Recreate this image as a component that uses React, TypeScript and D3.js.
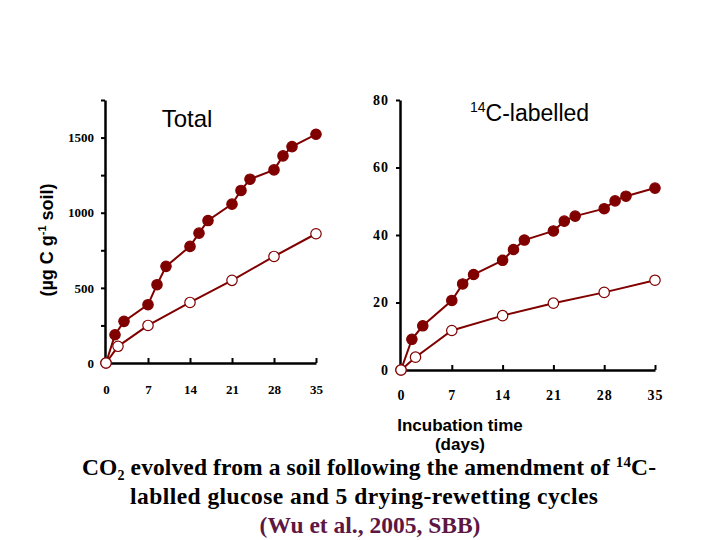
import React, { useEffect, useRef } from 'react';
import * as d3 from 'd3';

// incubation days
const dailyDays = [0, 1.5, 3, 7, 8.5, 10, 14, 15.5, 17, 21, 22.5, 24, 28, 29.5, 31, 35];
const weeklyDays = [0, 2, 7, 14, 21, 28, 35];

// total CO2-C (ug C / g soil)
const totalDrw = [0, 188, 277, 388, 521, 643, 776, 864, 948, 1057, 1148, 1223, 1285, 1378, 1440, 1522];
const totalMoist = [0, 111, 250, 403, 550, 709, 860];

// 14C-labelled CO2-C
const labelDrw = [0, 9.1, 13.1, 20.6, 25.5, 28.3, 32.5, 35.7, 38.5, 41.2, 44.1, 45.6, 47.8, 50.1, 51.5, 53.9];
const labelMoist = [0, 3.8, 11.7, 16.1, 19.8, 23.0, 26.6];

const dayTicks = [0, 7, 14, 21, 28, 35];
const totalTicks = [0, 250, 500, 750, 1000, 1250, 1500, 1750];
const labelTicks = [0, 20, 40, 60, 80];

const RED = '#800000';
const SANS = '"Liberation Sans", Arial, sans-serif';
const SERIF = '"Liberation Serif", "Times New Roman", serif';

type Panel = {
  xRange: [number, number];
  yRange: [number, number];
  yMax: number;
  yTicks: number[];
  yFormat: (d: number) => string;
  filled: number[];
  open: number[];
  tickPad: number;
  labelSize: number;
  labelSpacing: number;
};

function drawPanel(svg: d3.Selection<SVGSVGElement, unknown, null, undefined>, p: Panel) {
  const x = d3.scaleLinear().domain([0, 35]).range(p.xRange);
  const y = d3.scaleLinear().domain([0, p.yMax]).range(p.yRange);
  const g = svg.append('g');

  const yAxis = g.append('g')
    .attr('transform', `translate(${p.xRange[0] - 1},0)`)
    .call(d3.axisLeft(y).tickValues(p.yTicks).tickFormat(p.yFormat as any).tickSize(4).tickSizeOuter(0).tickPadding(7));
  const xAxis = g.append('g')
    .attr('transform', `translate(0,${p.yRange[0]})`)
    .call(d3.axisBottom(x).tickValues(dayTicks).tickFormat(d3.format('d') as any).tickSize(-5).tickSizeOuter(0).tickPadding(p.tickPad));

  [yAxis, xAxis].forEach(a => {
    a.select('.domain').attr('stroke', '#000').attr('stroke-width', 2.5);
    a.selectAll('.tick line').attr('stroke', '#000').attr('stroke-width', 2);
    a.selectAll('.tick text')
      .attr('fill', '#000')
      .style('font-family', SERIF)
      .style('font-weight', 'bold')
      .style('font-size', `${p.labelSize}px`)
      .style('letter-spacing', `${p.labelSpacing}px`);
  });

  const line = d3.line<[number, number]>().x(d => x(d[0])).y(d => y(d[1]));
  const series = [
    { days: dailyDays, vals: p.filled, fill: RED },
    { days: weeklyDays, vals: p.open, fill: '#fff' },
  ];
  series.forEach(s => {
    const pts = s.days.map((d, i) => [d, s.vals[i]] as [number, number]);
    g.append('path')
      .attr('d', line(pts))
      .attr('fill', 'none')
      .attr('stroke', RED)
      .attr('stroke-width', 2);
    g.selectAll(null)
      .data(pts)
      .enter().append('circle')
      .attr('cx', d => x(d[0]))
      .attr('cy', d => y(d[1]))
      .attr('r', 5.2)
      .attr('fill', s.fill)
      .attr('stroke', RED)
      .attr('stroke-width', 1.2);
  });
}

export default function App() {
  const ref = useRef<SVGSVGElement>(null);

  useEffect(() => {
    const svg = d3.select(ref.current!);
    svg.selectAll('*').remove();

    drawPanel(svg, {
      xRange: [106, 316], yRange: [363, 100], yMax: 1750, yTicks: totalTicks,
      yFormat: d => (d % 500 === 0 ? String(d) : ''),
      filled: totalDrw, open: totalMoist, tickPad: 22, labelSize: 13, labelSpacing: 0,
    });
    drawPanel(svg, {
      xRange: [401, 655], yRange: [370, 100], yMax: 80, yTicks: labelTicks,
      yFormat: d => String(d),
      filled: labelDrw, open: labelMoist, tickPad: 20, labelSize: 14, labelSpacing: 1,
    });

    // panel titles
    svg.append('text').attr('x', 187).attr('y', 127).attr('text-anchor', 'middle')
      .style('font-family', SANS).style('font-size', '24px').text('Total');
    const lab = svg.append('text').attr('x', 470).attr('y', 121)
      .style('font-family', SANS).style('font-size', '23px');
    lab.append('tspan').attr('dy', -9).style('font-size', '14px').text('14');
    lab.append('tspan').attr('dy', 9).text('C-labelled');

    // y axis title
    const yt = svg.append('text')
      .attr('transform', 'translate(53,240) rotate(-90)')
      .attr('text-anchor', 'middle')
      .style('font-family', SANS).style('font-weight', 'bold').style('font-size', '18px');
    yt.append('tspan').text('(\u00b5g C g');
    yt.append('tspan').attr('dy', -7).style('font-size', '11px').text('-1');
    yt.append('tspan').attr('dy', 7).text(' soil)');

    // x axis title
    ['Incubation time', '(days)'].forEach((t, i) => {
      svg.append('text').attr('x', 460).attr('y', 431 + i * 19).attr('text-anchor', 'middle')
        .style('font-family', SANS).style('font-weight', 'bold').style('font-size', '17px').text(t);
    });

    // caption
    const cap = (yPos: number, color = '#000') => svg.append('text')
      .attr('x', 369).attr('y', yPos).attr('text-anchor', 'middle').attr('fill', color)
      .style('font-family', SERIF).style('font-weight', 'bold').style('font-size', '23.5px');
    const c1 = cap(475).attr('textLength', 574).attr('lengthAdjust', 'spacing');
    c1.append('tspan').text('CO');
    c1.append('tspan').attr('dy', 5).style('font-size', '14px').text('2');
    c1.append('tspan').attr('dy', -5).text(' evolved from a soil following the amendment of ');
    c1.append('tspan').attr('dy', -8).style('font-size', '15px').text('14');
    c1.append('tspan').attr('dy', 8).text('C-');
    cap(504).attr('x', 364).attr('textLength', 468).attr('lengthAdjust', 'spacing')
      .text('lablled glucose and 5 drying-rewetting cycles');
    cap(533, '#5e1743').attr('x', 370).text('(Wu et al., 2005, SBB)');
  }, []);

  return (
    <svg ref={ref} width={720} height={540}
      style={{ position: 'absolute', left: 0, top: 0, background: '#fff' }} />
  );
}
